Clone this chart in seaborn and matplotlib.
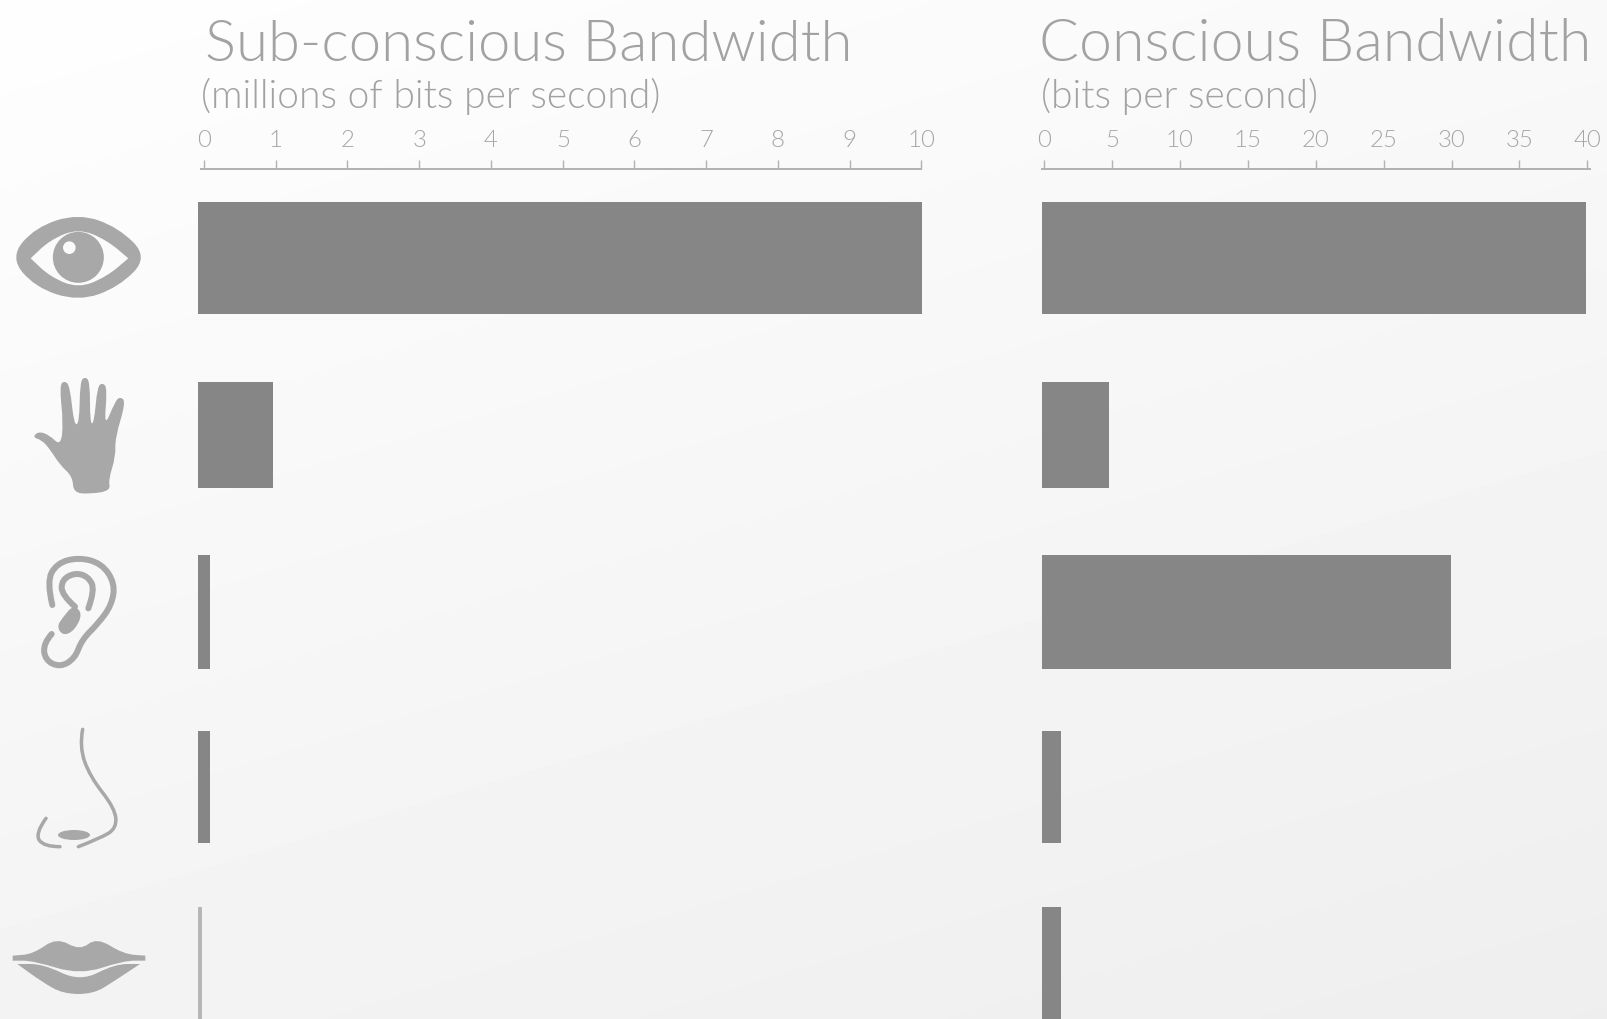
import numpy as np
import pandas as pd
import matplotlib
matplotlib.use("Agg")
import matplotlib.pyplot as plt
from matplotlib.path import Path
from matplotlib.patches import PathPatch, Circle, Ellipse
import seaborn as sns

# Bandwidth of each sense
senses = ["Sight", "Touch", "Hearing", "Smell", "Taste"]
subconscious_mbps = [10, 1.04, 0.17, 0.17, 0.06]
conscious_bps = [40, 4.9, 30.1, 1.4, 1.4]
subconscious_ticks = [0, 1, 2, 3, 4, 5, 6, 7, 8, 9, 10]
conscious_ticks = [0, 5, 10, 15, 20, 25, 30, 35, 40]

W, H = 1608, 1019
FONT = "Lato"
TEXT_GREY = "#a2a2a2"
TICK_GREY = "#a6a6a6"
BAR_GREY = "#868686"
ICON_GREY = "#a8a8a8"
BAR_HEIGHTS = [112, 106, 114, 112, 112]
ROW_CENTRES = [258, 434.7, 612, 787, 963]

sns.set_theme(style="white")
plt.rcParams["font.family"] = [FONT, "DejaVu Sans"]
fig = plt.figure(figsize=(W / 100, H / 100), dpi=100)


def pt(px):
    return px * 0.72


# Soft diagonal page shading
bg = fig.add_axes([0, 0, 1, 1], zorder=0)
yy, xx = np.mgrid[0:H:200j, 0:W:320j]
bg.imshow(254 - 0.0032 * xx - 0.0107 * yy, cmap="gray", vmin=0, vmax=255,
          extent=(0, W, H, 0), aspect="auto", interpolation="bilinear")
bg.axis("off")


def panel(column, values, ticks, left, right, scale, zero, ruler_scale, line_from, line_to):
    top, rows = 169, 176.25
    ax = fig.add_axes([left / W, 0, (right - left) / W, (H - top) / H], zorder=2)
    ax.patch.set_alpha(0)
    frame = pd.DataFrame({"sense": senses, column: values})
    colors = [BAR_GREY] * 4 + ["#b6b6b6" if values[-1] < 0.1 else BAR_GREY]
    sns.barplot(data=frame, x=column, y="sense", hue="sense", palette=colors, legend=False,
                saturation=1, width=0.63, ax=ax)
    ax.set_xlim(0, (right - left) / scale)
    ax.set_ylim((H - 258) / rows, (top - 258) / rows)
    for patch, height, centre in zip(ax.patches, BAR_HEIGHTS, ROW_CENTRES):
        patch.set_height(height / rows)
        patch.set_y((centre - 258 - height / 2) / rows)
        patch.set_linewidth(0)
    ax.set_xticks([])
    ax.set_yticks([])
    ax.set_xlabel("")
    ax.set_ylabel("")
    sns.despine(ax=ax, left=True, bottom=True, right=True, top=True)

    # Measuring ruler above the bars
    ruler = ax.twiny()
    ruler.patch.set_alpha(0)
    ruler.set_xlim((left - zero) / ruler_scale, (right - zero) / ruler_scale)
    ruler.set_xticks(ticks)
    ruler.tick_params(axis="x", top=True, direction="out", length=pt(9), width=pt(1.4),
                      color="#b2b2b2", labelcolor=TICK_GREY, labelsize=pt(24), pad=pt(9))
    for label in ruler.get_xticklabels():
        label.set_fontweight(300)
    for side in ("left", "right", "bottom"):
        ruler.spines[side].set_visible(False)
    ruler.spines["top"].set_color("#b2b2b2")
    ruler.spines["top"].set_linewidth(pt(2))
    ruler.spines["top"].set_bounds((line_from - zero) / ruler_scale, (line_to - zero) / ruler_scale)
    ruler.grid(False)


panel("subconscious", subconscious_mbps, subconscious_ticks, 198, 930, 72.4, 204, 71.75, 201.5, 921.5)
panel("conscious", conscious_bps, conscious_ticks, 1042, 1596, 13.59, 1044, 13.585, 1042.5, 1590)


def label(x, y, text, size, color=TEXT_GREY):
    fig.text(x / W, 1 - y / H, text, fontsize=pt(size), color=color, fontweight=300,
             ha="left", va="baseline", zorder=5)


label(205, 61, "Sub-conscious Bandwidth", 58)
label(1039, 61, "Conscious Bandwidth", 59)
label(201, 108, "(millions of bits per second)", 39)
label(1041, 108, "(bits per second)", 39)

# Hand-traced sense icons, in page pixels
art = fig.add_axes([0, 0, 1, 1], zorder=4)
art.set_xlim(0, W)
art.set_ylim(H, 0)
art.axis("off")
art.patch.set_alpha(0)


def smooth(points, closed=True):
    p = np.asarray(points, float)
    if closed:
        mids = (p + np.roll(p, -1, axis=0)) / 2
        verts, codes = [mids[-1]], [Path.MOVETO]
        for ctrl, end in zip(p, mids):
            verts += [ctrl, end]
            codes += [Path.CURVE3, Path.CURVE3]
    else:
        mids = (p[:-1] + p[1:]) / 2
        verts, codes = [p[0]], [Path.MOVETO]
        for ctrl, end in zip(p[1:-1], mids[1:]):
            verts += [ctrl, end]
            codes += [Path.CURVE3, Path.CURVE3]
        verts[-1] = p[-1]
    return np.array(verts), codes


def fill(points, color=ICON_GREY, x0=0, y0=0, k=1 / 3):
    pts = [(x0 + x * k, y0 + y * k) for x, y in points]
    verts, codes = smooth(pts)
    art.add_patch(PathPatch(Path(verts, codes), fc=color, ec="none"))


def stroke(points, width, x0=0, y0=0, k=1 / 3):
    pts = [(x0 + x * k, y0 + y * k) for x, y in points]
    verts, codes = smooth(pts, closed=False)
    art.add_patch(PathPatch(Path(verts, codes), fc="none", ec=ICON_GREY, lw=pt(width), capstyle="round"))


# Eye: rim, white of the eye, iris and highlight
page = "#fbfbfb"
fill([(30, 172), (105, 82), (235, 40), (355, 82), (445, 172), (355, 262), (235, 304), (105, 262)], y0=200)
fill([(92, 175), (92, 175), (150, 120), (235, 85), (320, 120), (385, 175), (385, 175), (320, 230), (235, 265), (150, 230)],
     page, y0=200)
art.add_patch(Circle((235 / 3, 200 + 172 / 3), 25.5, fc=ICON_GREY, ec="none"))
art.add_patch(Circle((208 / 3, 200 + 143 / 3), 6.3, fc=page, ec="none"))

# Hand
fill([(220, 398), (218, 350), (180, 315), (150, 268), (125, 240), (98, 232), (115, 214), (148, 225), (182, 258),
      (190, 190), (178, 75), (195, 62), (210, 80), (222, 195), (238, 190), (240, 65), (255, 50), (270, 65), (270, 190),
      (282, 190), (292, 80), (308, 68), (322, 85), (312, 205), (345, 125), (360, 110), (378, 125), (345, 235),
      (347, 290), (325, 360), (332, 392), (270, 402)], y0=360)

# Ear
stroke([(157, 735), (140, 665), (170, 610), (235, 592), (305, 610), (345, 670), (335, 735), (295, 790), (245, 840),
        (225, 895), (180, 922), (135, 900), (130, 850), (155, 822)], 6, y0=360)
stroke([(265, 745), (285, 690), (265, 650), (225, 638), (185, 660), (185, 705), (225, 740)], 6, y0=360)
fill([(220, 735), (248, 760), (225, 810), (190, 828), (170, 800), (190, 770)], y0=360)

# Nose
stroke([(248, 88), (238, 140), (270, 230), (345, 325), (350, 385), (300, 415), (235, 440)], 3.5, y0=700)
stroke([(138, 355), (105, 400), (130, 440), (180, 440)], 3.5, y0=700)
art.add_patch(Ellipse((222 / 3, 700 + 405 / 3), 32, 10, fc=ICON_GREY, ec="none"))

# Lips
fill([(38, 767), (38, 767), (100, 762), (170, 712), (240, 752), (290, 712), (370, 762), (436, 767), (436, 767), (436, 782),
      (436, 782), (370, 782), (240, 825), (100, 782), (38, 782), (38, 782)], y0=700)
fill([(52, 792), (52, 792), (130, 792), (240, 845), (345, 792), (420, 792), (420, 792), (340, 845),
      (280, 882), (190, 882), (125, 845)], y0=700)

fig.savefig("out.png", dpi=100)
